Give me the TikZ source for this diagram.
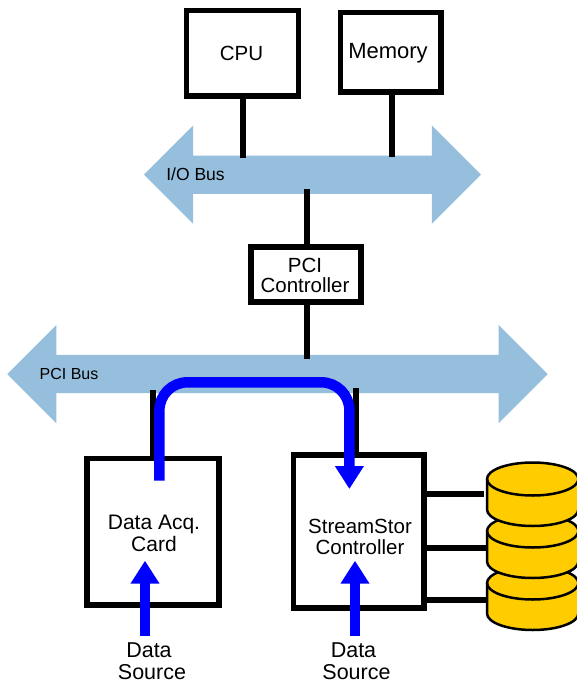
\documentclass[tikz,border=0pt]{standalone}
\usepackage{fontspec}
\setmainfont{Liberation Sans}
\usetikzlibrary{arrows.meta,shapes.arrows}
\definecolor{buscol}{HTML}{95BFDC}
\definecolor{diskcol}{HTML}{FFCC00}
\definecolor{flowcol}{HTML}{0000FF}
\tikzset{
  busarrow/.style={double arrow,fill=buscol,inner xsep=0pt,inner ysep=19pt,double arrow head extend=30pt},
  block/.style={draw,rectangle,line width=5.5pt,inner sep=0pt},
  link/.style={line width=6pt},
  flow/.style={line width=10.5pt,flowcol,-{Triangle[width=27.5pt,length=23pt]}},
  disk/.style={draw,fill=diskcol,line width=2.5pt,line join=round},
  txt/.style={inner sep=0pt,align=center,font=\fontsize{20.5}{21}\selectfont},
  bustxt/.style={inner sep=0pt,font=\fontsize{16}{19}\selectfont}
}
\begin{document}
\begin{tikzpicture}[x=1pt,y=-1pt]
\useasboundingbox (0,0) rectangle (576,683);

\node[busarrow,minimum height=337pt] (iobus) at (312.5,174.7) {};
\node[busarrow,minimum height=540.5pt] (pcibus) at (277.5,374) {};

\node[block,minimum width=112pt,minimum height=85.5pt] (cpu) at (242.5,53.2) {};
\node[block,minimum width=100.5pt,minimum height=79.5pt] (mem) at (390.7,52.2) {};
\node[block,minimum width=110pt,minimum height=55pt] (pci) at (306,274.5) {};
\node[block,minimum width=132pt,minimum height=146.5pt] (acq) at (153,531.8) {};
\node[block,minimum width=130.5pt,minimum height=153pt] (ctrl) at (358.7,531.5) {};

\coordinate (iotap1) at (243,158);
\coordinate (iotap2) at (392,157);
\coordinate (iotap3) at (307,189);
\coordinate (pcitap0) at (307,359);
\coordinate (pcitap1) at (153,390);
\coordinate (pcitap2) at (355.6,388);
\coordinate (disktap1) at (484,493.7);
\coordinate (disktap2) at (487,547.7);
\coordinate (disktap3) at (487,599.7);

\path[draw,link] (iotap1 |- cpu.south) -- (iotap1);
\path[draw,link] (iotap2 |- mem.south) -- (iotap2);
\path[draw,link] (iotap3) -- (iotap3 |- pci.north);
\path[draw,link] (pcitap0 |- pci.south) -- (pcitap0);
\path[draw,link] (pcitap1) -- (pcitap1 |- acq.north);
\path[draw,link] (pcitap2) -- (pcitap2 |- ctrl.north);
\path[draw,link] (ctrl.east |- disktap1) -- (disktap1);
\path[draw,link] (ctrl.east |- disktap2) -- (disktap2);
\path[draw,link] (ctrl.east |- disktap3) -- (disktap3);

% lowest disk first, each one lies over the next
\foreach \n/\y in {3/583,2/531,1/479} {
  \coordinate (disk\n) at (532.7,\y);
  \path[disk] (disk\n) ++(-45.7,0) -- ++(0,30.5) arc[start angle=180,end angle=360,x radius=45.7pt,y radius=16.5pt]
    -- ++(0,-30.5) arc[start angle=0,end angle=180,x radius=45.7pt,y radius=16.5pt] -- cycle;
  \path[disk,fill=none] (disk\n) ++(-45.7,0) arc[start angle=180,end angle=360,x radius=45.7pt,y radius=16.5pt];
}

\node[txt] (cputxt) at (241.5,53) {CPU};
\node[txt,font=\fontsize{22}{24}\selectfont] (memtxt) at (388,53) {Memory};
\node[txt,font=\fontsize{20.5}{20}\selectfont] (pcitxt) at (305,275) {PCI\\Controller};
\node[txt,font=\fontsize{21}{22}\selectfont] (acqtxt) at (154,533) {Data Acq.\\Card};
\node[txt] (ctrltxt) at (360,537) {StreamStor\\Controller};
\node[txt,font=\fontsize{21.5}{22}\selectfont] (src1) at (152,661.5) {Data\kern6pt\\Source};
\node[txt,font=\fontsize{21.5}{22}\selectfont] (src2) at (356.5,661.5) {Data\kern6pt\\Source};
\node[bustxt,font=\fontsize{17.5}{19}\selectfont] (iotxt) at (195.5,174) {I/O Bus};
\node[bustxt] (pcibustxt) at (69,374) {PCI Bus};

\coordinate (flowa) at (159.4,480.7);
\coordinate (flowb) at (159.4,382.3);
\coordinate (flowc) at (349.4,382.3);
\coordinate (flowd) at (349.4,489);
\coordinate (srca) at (145,635.7);
\coordinate (srcb) at (355,635.7);
\coordinate (tipa) at (145,560.7);
\coordinate (tipb) at (355,560.7);

\path[draw,flow,rounded corners=28pt] (flowa) -- (flowb) -- (flowc) -- (flowd);
\path[draw,flow] (srca) -- (tipa);
\path[draw,flow] (srcb) -- (tipb);
\end{tikzpicture}
\end{document}
